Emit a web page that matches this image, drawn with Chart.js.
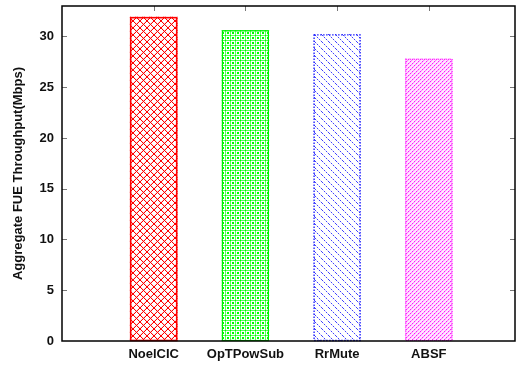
<!DOCTYPE html>
<html>
<head>
<meta charset="utf-8">
<script src="https://cdn.jsdelivr.net/npm/chart.js@4/dist/chart.umd.min.js"></script>
<style>
  html, body { margin: 0; padding: 0; background: #fff; }
  #wrap { width: 516px; height: 370px; }
</style>
</head>
<body>
<div id="wrap"><canvas id="c" width="516" height="370"></canvas></div>
<script>
// Aggregate femto-UE throughput per interference scheme
const categories = ['NoelCIC', 'OpTPowSub', 'RrMute', 'ABSF'];
const throughput = [31.9, 30.6, 30.2, 27.8];
const yTicks = [0, 5, 10, 15, 20, 25, 30];

const FONT = { family: '"Liberation Sans", Arial, Helvetica, sans-serif', size: 13, weight: 'bold' };

function makePattern(size, draw) {
  const c = document.createElement('canvas');
  c.width = size; c.height = size;
  const g = c.getContext('2d');
  draw(g, size);
  return g.createPattern(c, 'repeat');
}

// Crosshatched diamond lattice
const redHatch = makePattern(7, (g, s) => {
  g.fillStyle = '#ff0000';
  for (let i = 0; i < s; i++) {
    g.fillRect(i, i, 1, 1);
    g.fillRect(s - 1 - i, i, 1, 1);
  }
  g.fillStyle = 'rgba(255,0,0,0.15)';
  for (let i = 0; i < s - 1; i++) {
    g.fillRect(i + 1, i, 1, 1);
    g.fillRect(s - 2 - i, i, 1, 1);
  }
});
// Dense lattice of small squares and rings
const greenHatch = makePattern(5, (g, s) => {
  g.fillStyle = 'rgba(0,255,0,0.65)';
  g.fillRect(0, 0, s, 1);
  g.fillRect(0, 0, 1, s);
  g.fillStyle = '#00ff00';
  g.fillRect(2, 2, 2, 2);
  g.fillRect(0, 0, 1, 1);
});
// Dotted lines falling to the right
const blueHatch = makePattern(7, (g, s) => {
  g.fillStyle = 'rgba(30,30,255,0.85)';
  for (let i = 0; i < s; i += 2) g.fillRect(i, i, 1, 1);
  g.fillStyle = 'rgba(90,90,255,0.3)';
  for (let i = 1; i < s; i += 2) g.fillRect(i, i, 1, 1);
});
// Fine dotted lines rising to the right over a pale pink wash
const pinkHatch = makePattern(4, (g, s) => {
  g.fillStyle = 'rgba(255,190,255,0.35)';
  g.fillRect(0, 0, s, s);
  for (let i = 0; i < s; i++) {
    g.fillStyle = i % 2 ? 'rgba(255,0,255,0.9)' : 'rgba(255,90,255,0.7)';
    g.fillRect(s - 1 - i, i, 1, 1);
    g.fillStyle = 'rgba(255,170,255,0.6)';
    g.fillRect((s - i) % s, i, 1, 1);
  }
});

const fills = [redHatch, greenHatch, blueHatch, pinkHatch];
const outlines = [
  { color: '#ff0000', width: 1.6, dash: [] },
  { color: '#00ee00', width: 1.2, dash: [] },
  { color: '#2020ff', width: 1.4, dash: [1.5, 1.5] },
  { color: '#ff20ff', width: 1.2, dash: [1, 1] }
];

// Frame, inward tick marks and bar outlines
const framePlugin = {
  id: 'frame',
  afterDatasetsDraw(chart) {
    const ctx = chart.ctx;
    const meta = chart.getDatasetMeta(0);
    ctx.save();
    meta.data.forEach((bar, i) => {
      const o = outlines[i];
      const p = bar.getProps(['x', 'y', 'base', 'width'], true);
      ctx.strokeStyle = o.color;
      ctx.lineWidth = o.width;
      ctx.setLineDash(o.dash);
      ctx.strokeRect(p.x - p.width / 2 + 0.5, p.y + 0.5, p.width - 1, p.base - p.y - 1);
    });
    ctx.restore();
  },
  afterDraw(chart) {
    const ctx = chart.ctx;
    const a = chart.chartArea;
    const x = chart.scales.x, y = chart.scales.y;
    ctx.save();
    ctx.strokeStyle = '#777';
    ctx.lineWidth = 1;
    ctx.beginPath();
    yTicks.forEach(v => {
      if (v === 0) return;
      const py = Math.round(y.getPixelForValue(v)) + 0.5;
      ctx.moveTo(a.left, py); ctx.lineTo(a.left + 5, py);
      ctx.moveTo(a.right, py); ctx.lineTo(a.right - 5, py);
    });
    categories.forEach((_, i) => {
      const px = Math.round(x.getPixelForValue(i)) + 0.5;
      ctx.moveTo(px, a.top); ctx.lineTo(px, a.top + 5);
    });
    ctx.stroke();
    ctx.strokeStyle = '#000';
    ctx.lineWidth = 1.5;
    ctx.strokeRect(a.left, a.top, a.right - a.left, a.bottom - a.top);
    ctx.restore();
  }
};

new Chart(document.getElementById('c'), {
  type: 'bar',
  data: {
    datasets: [{
      data: throughput.map((v, i) => ({ x: i, y: v })),
      backgroundColor: fills,
      borderWidth: 0,
      barThickness: 47
    }]
  },
  options: {
    responsive: false,
    animation: false,
    events: [],
    layout: { padding: { top: 6, right: 1, left: 0, bottom: 0 } },
    plugins: { legend: { display: false }, tooltip: { enabled: false } },
    scales: {
      x: {
        type: 'linear',
        min: -1,
        max: 3.94,
        offset: false,
        grid: { display: false, drawTicks: false },
        border: { display: false },
        afterBuildTicks(scale) { scale.ticks = categories.map((_, i) => ({ value: i })); },
        afterFit(scale) { scale.height = 29; scale.paddingLeft = 0; scale.paddingRight = 0; },
        ticks: {
          autoSkip: false,
          maxRotation: 0,
          padding: 6,
          color: '#111',
          font: FONT,
          callback: v => categories[v] ?? ''
        }
      },
      y: {
        min: 0,
        max: 33,
        grid: { display: false, drawTicks: false },
        border: { display: false },
        afterBuildTicks(scale) { scale.ticks = yTicks.map(v => ({ value: v })); },
        afterFit(scale) { scale.width = 62; scale.paddingTop = 0; scale.paddingBottom = 0; },
        ticks: { padding: 8, color: '#111', font: FONT },
        title: {
          display: true,
          text: 'Aggregate FUE Throughput(Mbps)',
          color: '#111',
          font: FONT,
          padding: { top: 11, bottom: 0 }
        }
      }
    }
  },
  plugins: [framePlugin]
});
</script>
</body>
</html>
